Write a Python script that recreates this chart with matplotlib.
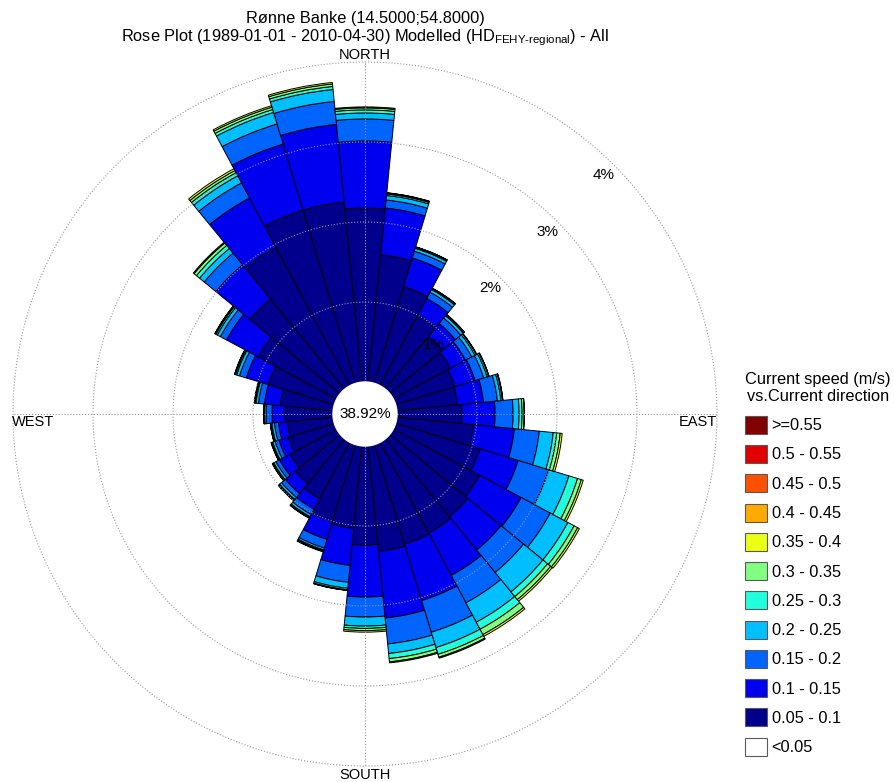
import numpy as np
import matplotlib.pyplot as plt
from matplotlib.patches import Patch

plt.rcParams['font.family'] = ['Liberation Sans', 'DejaVu Sans']
plt.rcParams['mathtext.fontset'] = 'custom'
plt.rcParams['mathtext.rm'] = 'Liberation Sans'
plt.rcParams['mathtext.it'] = 'Liberation Sans:italic'
plt.rcParams['mathtext.bf'] = 'Liberation Sans:bold'

# 32 direction sectors (deg, clockwise from north), frequencies in %
directions = np.arange(32) * 11.25
calm_pct = 38.92

f_005_010 = [2.175, 1.600, 1.263, 1.000, 0.850, 0.813, 0.775, 0.763, 0.813, 0.963, 1.100, 1.225,
             1.263, 1.288, 1.300, 1.325, 1.238, 1.038, 1.000, 0.800, 0.725, 0.663, 0.600, 0.575,
             0.600, 0.663, 0.863, 1.113, 1.463, 1.963, 2.263, 2.263]
f_010_015 = [0.838, 0.588, 0.375, 0.238, 0.213, 0.213, 0.263, 0.325, 0.413, 0.513, 0.500, 0.588,
             0.538, 0.600, 0.738, 0.838, 0.650, 0.463, 0.238, 0.150, 0.163, 0.150, 0.125, 0.113,
             0.163, 0.200, 0.288, 0.450, 0.550, 0.700, 0.863, 0.975]
f_015_020 = [0.275, 0.100, 0.088, 0.088, 0.088, 0.088, 0.113, 0.175, 0.225, 0.313, 0.400, 0.413,
             0.363, 0.388, 0.413, 0.325, 0.250, 0.213, 0.113, 0.075, 0.063, 0.050, 0.050, 0.050,
             0.075, 0.075, 0.088, 0.088, 0.188, 0.213, 0.263, 0.288]
f_020_025 = [0.075, 0.056, 0.038, 0.038, 0.038, 0.044, 0.044, 0.044, 0.075, 0.175, 0.263, 0.250,
             0.313, 0.275, 0.200, 0.120, 0.113, 0.075, 0.025, 0.031, 0.031, 0.031, 0.031, 0.031,
             0.019, 0.031, 0.038, 0.044, 0.075, 0.100, 0.150, 0.150]
f_025_030 = [0.038, 0.019, 0.013, 0.013, 0.013, 0.019, 0.019, 0.019, 0.038, 0.044, 0.113, 0.088,
             0.075, 0.100, 0.088, 0.064, 0.029, 0.019, 0.013, 0.013, 0.013, 0.013, 0.013, 0.013,
             0.006, 0.013, 0.015, 0.019, 0.050, 0.044, 0.038, 0.038]
f_030_035 = [0.025, 0.013, 0.005, 0.005, 0.005, 0.005, 0.005, 0.005, 0.025, 0.044, 0.050, 0.050,
             0.050, 0.075, 0.038, 0.041, 0.028, 0.006, 0.006, 0.006, 0.006, 0.006, 0.006, 0.006,
             0.003, 0.006, 0.010, 0.013, 0.038, 0.031, 0.031, 0.031]
f_035_040 = [0.013, 0.003, 0.002, 0.002, 0.002, 0.002, 0.002, 0.002, 0.005, 0.025, 0.025, 0.025,
             0.025, 0.025, 0.013, 0.013, 0.019, 0.003, 0.006, 0.002, 0.002, 0.002, 0.002, 0.002,
             0.002, 0.002, 0.002, 0.002, 0.013, 0.025, 0.019, 0.019]
f_040_045 = [0.0] * 32
f_045_050 = [0.0] * 32
f_050_055 = [0.0] * 32
f_055_up = [0.0] * 32

speed_labels = ['<0.05', '0.05 - 0.1', '0.1 - 0.15', '0.15 - 0.2', '0.2 - 0.25', '0.25 - 0.3',
                '0.3 - 0.35', '0.35 - 0.4', '0.4 - 0.45', '0.45 - 0.5', '0.5 - 0.55', '>=0.55']
speed_colors = ['#ffffff', '#00008c', '#0000f0', '#0064ff', '#00bfff', '#22ffdc',
                '#80ff80', '#ebff14', '#ffaa00', '#ff5000', '#e00000', '#800000']
ring_pct = [1, 2, 3, 4]

classes = [f_005_010, f_010_015, f_015_020, f_020_025, f_025_030, f_030_035,
           f_035_040, f_040_045, f_045_050, f_050_055, f_055_up]

W, H = 894, 782
fx = lambda px: px / W
fy = lambda py: 1 - py / H

fig = plt.figure(figsize=(W / 100, H / 100), dpi=100)
ax = fig.add_axes([fx(13), 16 / H, 704 / W, 704 / H], projection='polar')
ax.set_theta_zero_location('N')
ax.set_theta_direction(-1)

calm_r = 0.4
theta = np.deg2rad(directions)
width = 2 * np.pi / len(directions)
bottom = np.full(len(directions), calm_r)
for vals, col in zip(classes, speed_colors[1:]):
    vals = np.asarray(vals)
    m = vals > 0
    if m.any():
        ax.bar(theta[m], vals[m], width=width, bottom=bottom[m], color=col,
               edgecolor='black', linewidth=0.7, zorder=2)
    bottom = bottom + vals

circ = np.linspace(0, 2 * np.pi, 500)
for p in ring_pct:
    ax.plot(circ, np.full_like(circ, calm_r + p), ls=':', color='0.6', lw=0.8,
            zorder=3, clip_on=False)
    ax.text(np.deg2rad(45), calm_r + p - 0.18, f'{p}%', ha='center', va='center',
            fontsize=11, zorder=6)
for a in [0, 90, 180, 270]:
    ax.plot([np.deg2rad(a)] * 2, [calm_r, calm_r + ring_pct[-1]], ls=':', color='0.6',
            lw=0.8, zorder=3)

ax.fill(circ, np.full_like(circ, calm_r), color='white', zorder=4)
ax.text(0, 0, f'{calm_pct:.2f}%', ha='center', va='center', fontsize=11, zorder=6)

ax.set_ylim(0, calm_r + ring_pct[-1])
ax.set_xticks([])
ax.set_yticks([])
ax.grid(False)
ax.spines['polar'].set_visible(False)

fig.text(fx(365), fy(59), 'NORTH', ha='center', va='baseline', fontsize=10.5)
fig.text(fx(365), fy(775), 'SOUTH', ha='center', va='center', fontsize=10.5)
fig.text(fx(33), fy(422), 'WEST', ha='center', va='center', fontsize=10.5)
fig.text(fx(698), fy(422), 'EAST', ha='center', va='center', fontsize=10.5)

fig.text(fx(365), fy(23), 'Rønne Banke (14.5000;54.8000)', ha='center', va='baseline',
         fontsize=11.8)
fig.text(fx(365), fy(41),
         r'Rose Plot (1989-01-01 - 2010-04-30) Modelled (HD$_{\text{FEHY-regional}}$) - All',
         ha='center', va='baseline', fontsize=11.8)

handles = [Patch(facecolor=c, edgecolor='0.35', linewidth=0.8) for c in speed_colors[::-1]]
leg = fig.legend(handles, speed_labels[::-1], loc='upper left',
                 bbox_to_anchor=(fx(745), fy(372)),
                 frameon=False, title='Current speed (m/s)\nvs.Current direction',
                 fontsize=11.8, title_fontsize=11.8, handlelength=1.34, handleheight=1.31,
                 handletextpad=0.29, labelspacing=0.69, borderaxespad=0, borderpad=0,
                 alignment='left')
leg.get_title().set_multialignment('center')

fig.savefig('out.png', dpi=100)
